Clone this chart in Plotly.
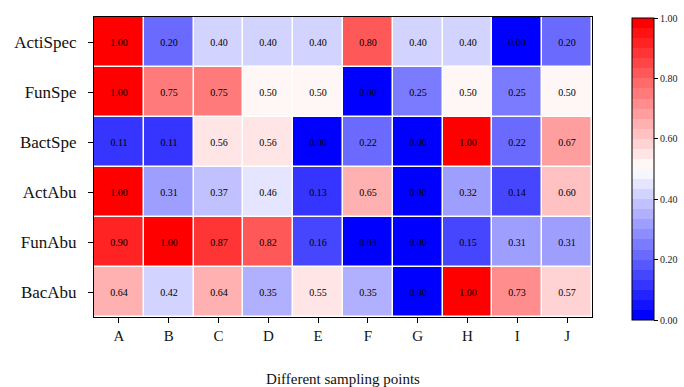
import plotly.graph_objects as go

sites = ["A", "B", "C", "D", "E", "F", "G", "H", "I", "J"]
indices = ["ActiSpec", "FunSpe", "BactSpe", "ActAbu", "FunAbu", "BacAbu"]

acti_spec = [1.00, 0.20, 0.40, 0.40, 0.40, 0.80, 0.40, 0.40, 0.00, 0.20]
fun_spe = [1.00, 0.75, 0.75, 0.50, 0.50, 0.00, 0.25, 0.50, 0.25, 0.50]
bact_spe = [0.11, 0.11, 0.56, 0.56, 0.00, 0.22, 0.00, 1.00, 0.22, 0.67]
act_abu = [1.00, 0.31, 0.37, 0.46, 0.13, 0.65, 0.00, 0.32, 0.14, 0.60]
fun_abu = [0.90, 1.00, 0.87, 0.82, 0.16, 0.03, 0.00, 0.15, 0.31, 0.31]
bac_abu = [0.64, 0.42, 0.64, 0.35, 0.55, 0.35, 0.00, 1.00, 0.73, 0.57]

cbar_ticks = [0.0, 0.2, 0.4, 0.6, 0.8, 1.0]

z = [acti_spec, fun_spe, bact_spe, act_abu, fun_abu, bac_abu]

FONT = "Liberation Serif, Times New Roman, serif"

# banded blue-white-red colormap (30 levels)
N = 30
def bwr(t):
    if t <= 0.5:
        f = t / 0.5
        return (round(255 * f), round(255 * f), 255)
    f = (t - 0.5) / 0.5
    return (255, round(255 * (1 - f)), round(255 * (1 - f)))

colorscale = []
for i in range(N):
    r, g, b = bwr(i / (N - 1))
    c = f"rgb({r},{g},{b})"
    colorscale.append([i / N, c])
    colorscale.append([(i + 1) / N if i < N - 1 else 1.0, c])

fig = go.Figure(go.Heatmap(
    z=z, x=sites, y=indices,
    colorscale=colorscale,
    zmin=0, zmax=1,
    xgap=1.5, ygap=1.5,
    text=[[f"{v:.2f}" for v in row] for row in z],
    texttemplate="%{text}",
    textfont=dict(family=FONT, size=10, color="black"),
    colorbar=dict(
        x=(632 - 94) / 498, xanchor="left", xref="paper", xpad=0,
        y=0.4933, yanchor="middle", len=1.007, lenmode="fraction", ypad=0,
        thickness=22, outlinecolor="black", outlinewidth=1,
        tickvals=cbar_ticks, ticktext=[f"{t:.2f}" for t in cbar_ticks],
        ticks="outside", ticklen=4, tickcolor="black",
        tickfont=dict(family=FONT, size=10, color="#222"),
    ),
))

fig.update_layout(
    width=684, height=387,
    margin=dict(l=94, r=92, t=17, b=70, autoexpand=False),
    paper_bgcolor="white", plot_bgcolor="white",
    font=dict(family=FONT, color="#111"),
)
fig.update_xaxes(
    showline=True, linecolor="black", linewidth=1, mirror=True,
    ticks="outside", ticklen=5, tickcolor="black",
    tickfont=dict(family=FONT, size=15, color="#111"),
    title=dict(text="Different sampling points", font=dict(family=FONT, size=15, color="#111"), standoff=33),
)
fig.update_yaxes(
    autorange="reversed",
    showline=True, linecolor="black", linewidth=1, mirror=True,
    ticks="outside", ticklen=5, tickcolor="black", ticklabelstandoff=8,
    tickfont=dict(family=FONT, size=17, color="#111"),
)

fig.write_html(
    "out.html",
    config={"displayModeBar": False},
    post_script="document.body.style.margin='0';document.body.style.overflow='hidden';",
)
